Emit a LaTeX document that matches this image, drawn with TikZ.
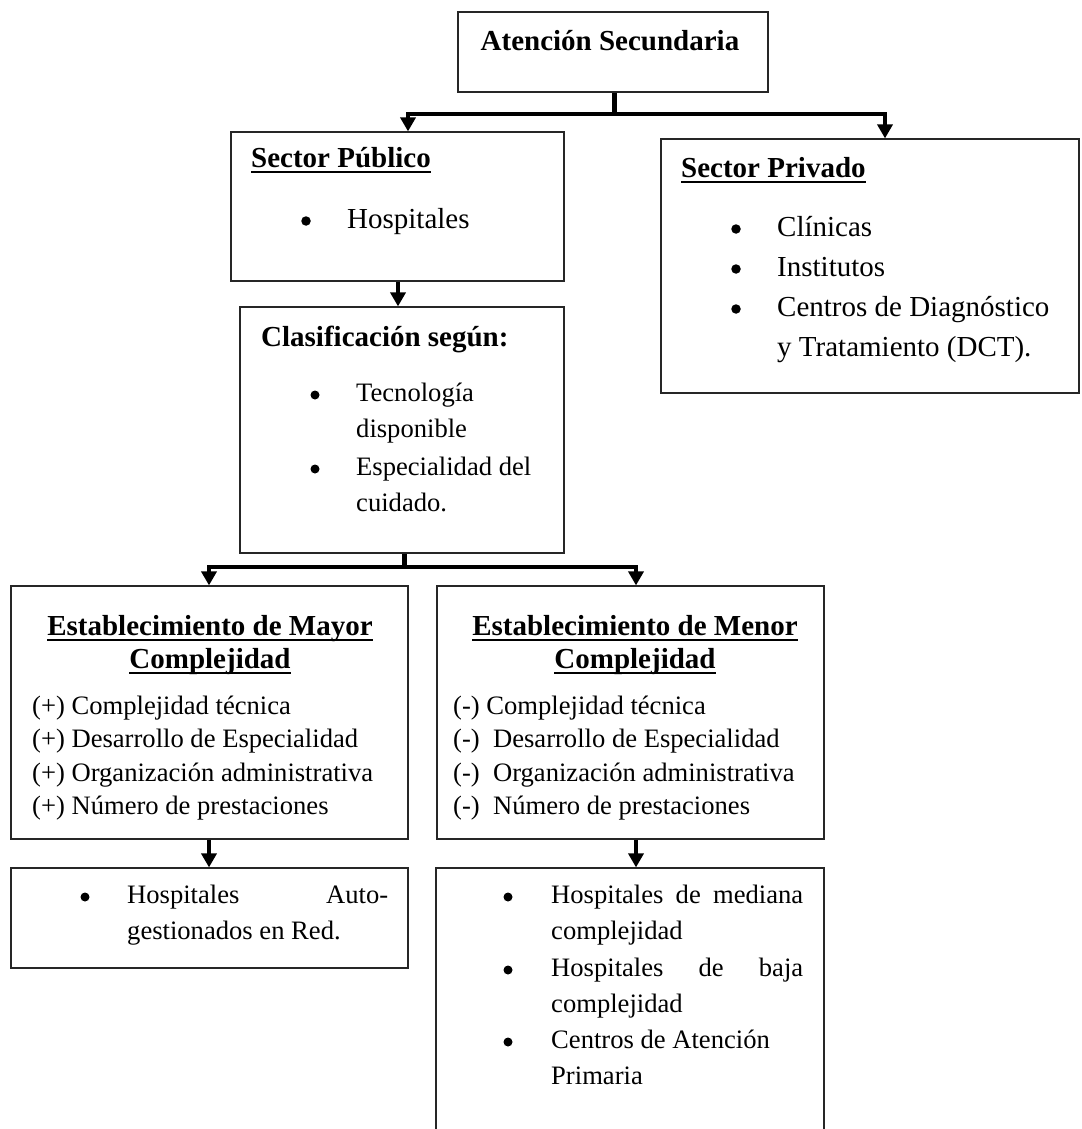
\documentclass[tikz,border=0pt]{standalone}
\usepackage{fontspec}
\setmainfont{Liberation Serif}
\usetikzlibrary{arrows.meta}

% bold text with a heavy underline
\newsavebox\ulbox
\newcommand\ulbf[1]{\sbox\ulbox{\bfseries #1}\rlap{\rule[-6pt]{\wd\ulbox}{2.4pt}}\usebox\ulbox}

\begin{document}
\begin{tikzpicture}[x=1pt,y=-1pt,
  box/.style={draw=black!85, line width=1.2pt, inner sep=0pt, rectangle},
  txt/.style={anchor=base west, inner sep=0pt, font=\fontsize{29pt}{34pt}\selectfont},
  stxt/.style={anchor=base west, inner sep=0pt, font=\fontsize{26.6pt}{32pt}\selectfont},
  ctxt/.style={txt, anchor=base},
  dot/.style={circle, fill=black, inner sep=0pt, minimum size=9.5pt},
  sdot/.style={circle, fill=black, inner sep=0pt, minimum size=9pt},
  bar/.style={line width=4pt, line cap=rect},
  stemline/.style={line width=5pt},
  arr/.style={line width=4pt, -{Triangle[width=15pt,length=14pt]}},
]
\useasboundingbox (0,0) rectangle (1081,1129);
\clip (0,0) rectangle (1081,1129);

% ---------- boxes ----------
\node[box, minimum width=310pt, minimum height=80pt]  (top)   at (613,52)    {};
\node[box, minimum width=333pt, minimum height=149pt] (pub)   at (397.5,206.5) {};
\node[box, minimum width=418pt, minimum height=254pt] (priv)  at (870,266)   {};
\node[box, minimum width=324pt, minimum height=246pt] (clas)  at (402,430)   {};
\node[box, minimum width=397pt, minimum height=253pt] (mayor) at (209.5,712.5) {};
\node[box, minimum width=387pt, minimum height=253pt] (menor) at (630.5,712.5) {};
\node[box, minimum width=397pt, minimum height=100pt] (hbl)   at (209.5,918) {};
\node[box, minimum width=388pt, minimum height=292pt] (hbr)   at (630,1014)  {};

% ---------- texts ----------
\node[ctxt] (ttop) at (610,51) {\bfseries Atención Secundaria};

\node[txt] (tpub) at (251,167) {\ulbf{Sector Público}};
\node[dot] (bpub) at (306,221) {};
\node[txt] (lpub) at (347,228) {Hospitales};

\node[txt] (tpriv) at (681,177) {\ulbf{Sector Privado}};
\node[dot] (bpriv1) at (736,229) {};
\node[txt] (lpriv1) at (777,236) {Clínicas};
\node[dot] (bpriv2) at (736,269) {};
\node[txt] (lpriv2) at (777,276) {Institutos};
\node[dot] (bpriv3) at (736,309) {};
\node[txt] (lpriv3) at (777,316) {Centros de Diagnóstico};
\node[txt] (lpriv4) at (777,356) {y Tratamiento (DCT).};

\node[txt] (tclas) at (261,346) {\bfseries Clasificación según:};
\node[sdot] (bclas1) at (315,395) {};
\node[stxt] (lclas1) at (356,401) {Tecnología};
\node[stxt] (lclas2) at (356,437) {disponible};
\node[sdot] (bclas2) at (315,469) {};
\node[stxt] (lclas3) at (356,475) {Especialidad del};
\node[stxt] (lclas4) at (356,511) {cuidado.};

\node[ctxt] (tmay1) at (210,635) {\ulbf{Establecimiento de Mayor}};
\node[ctxt] (tmay2) at (210,668) {\ulbf{Complejidad}};
\node[stxt] (lmay1) at (32,714) {(+) Complejidad técnica};
\node[stxt] (lmay2) at (32,747) {(+) Desarrollo de Especialidad};
\node[stxt] (lmay3) at (32,781) {(+) Organización administrativa};
\node[stxt] (lmay4) at (32,814) {(+) Número de prestaciones};

\node[ctxt] (tmen1) at (635,635) {\ulbf{Establecimiento de Menor}};
\node[ctxt] (tmen2) at (635,668) {\ulbf{Complejidad}};
\node[stxt] (lmen1) at (453,714) {(-) Complejidad técnica};
\node[stxt] (lmen2) at (453,747) {(-)\ \ Desarrollo de Especialidad};
\node[stxt] (lmen3) at (453,781) {(-)\ \ Organización administrativa};
\node[stxt] (lmen4) at (453,814) {(-)\ \ Número de prestaciones};

\node[sdot] (bhbl) at (85,897) {};
\node[stxt] (lhbl1) at (127,903) {\makebox[261pt][s]{Hospitales Auto-}};
\node[stxt] (lhbl2) at (127,939) {gestionados en Red.};

\node[sdot] (bhbr1) at (508,897) {};
\node[stxt] (lhbr1) at (551,903) {\makebox[252pt][s]{Hospitales de mediana}};
\node[stxt] (lhbr2) at (551,939) {complejidad};
\node[sdot] (bhbr2) at (508,970) {};
\node[stxt] (lhbr3) at (551,976) {\makebox[252pt][s]{Hospitales de baja}};
\node[stxt] (lhbr4) at (551,1012) {complejidad};
\node[sdot] (bhbr3) at (508,1042) {};
\node[stxt] (lhbr5) at (551,1048) {Centros de Atención};
\node[stxt] (lhbr6) at (551,1084) {Primaria};

% ---------- connectors ----------
% first split: Atención Secundaria -> both sectors
\coordinate (j1)  at (614,114);
\coordinate (j1L) at (408,114);
\coordinate (j1R) at (885,114);
\draw[stemline] (top.south -| j1) -- (j1);
\draw[bar] (j1L) -- (j1R);
\draw[arr] (j1L) -- (j1L |- pub.north);
\draw[arr] (j1R) -- (j1R |- priv.north);

% Sector Público -> Clasificación
\coordinate (c1) at (398,0);
\draw[arr] (pub.south -| c1) -- (clas.north -| c1);

% second split: Clasificación -> both establishments
\coordinate (j2)  at (404,567);
\coordinate (j2L) at (209,567);
\coordinate (j2R) at (636,567);
\draw[stemline] (clas.south -| j2) -- (j2);
\draw[bar] (j2L) -- (j2R);
\draw[arr] (j2L) -- (j2L |- mayor.north);
\draw[arr] (j2R) -- (j2R |- menor.north);

% establishments -> hospital lists
\draw[arr] (mayor.south -| j2L) -- (hbl.north -| j2L);
\draw[arr] (menor.south -| j2R) -- (hbr.north -| j2R);

\end{tikzpicture}
\end{document}
